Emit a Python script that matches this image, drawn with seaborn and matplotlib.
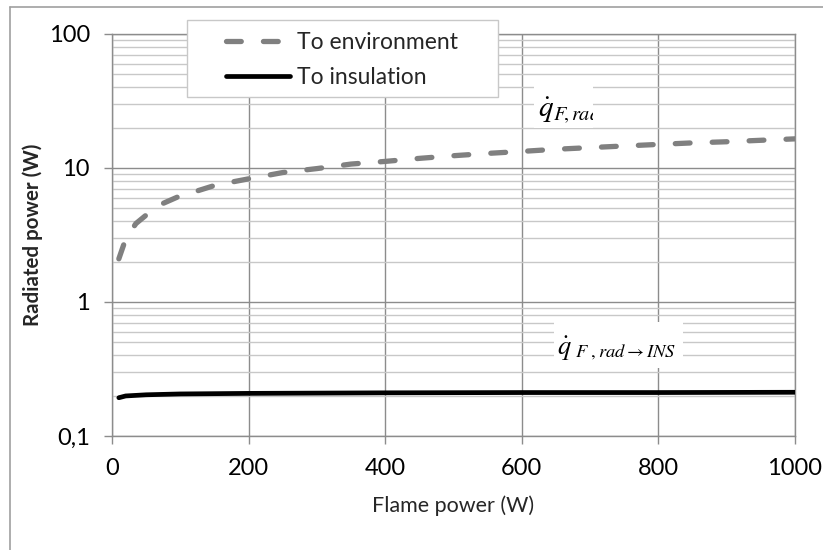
import numpy as np
import pandas as pd
import seaborn as sns
import matplotlib
matplotlib.use("Agg")
import matplotlib.pyplot as plt
from matplotlib.patches import Rectangle
from matplotlib.lines import Line2D
from matplotlib.transforms import Bbox
from matplotlib.ticker import FixedLocator, FixedFormatter, NullFormatter

# Flame power (W) and radiated power (W)
flame_env = [10, 20, 35, 50, 75, 100, 125, 150, 175, 200, 250, 300, 350, 400,
             450, 500, 550, 600, 650, 700, 750, 800, 850, 900, 950, 1000]
to_environment = [2.1, 2.95, 3.85, 4.45, 5.45, 6.2, 6.75, 7.4, 7.85, 8.3, 9.25,
                  9.9, 10.7, 11.2, 11.8, 12.35, 12.85, 13.3, 13.8, 14.2, 14.6,
                  15.0, 15.4, 15.7, 16.1, 16.5]

flame_ins = [10, 20, 50, 100, 200, 400, 600, 800, 1000]
to_insulation = [0.193, 0.199, 0.203, 0.206, 0.208, 0.21, 0.211, 0.211, 0.212]

x_ticks = [0, 200, 400, 600, 800, 1000]
y_ticks = [0.1, 1, 10, 100]
y_tick_labels = ["0,1", "1", "10", "100"]

sns.set_theme(style="white")
plt.rcParams["font.family"] = ["Lato", "DejaVu Sans"]
plt.rcParams["mathtext.fontset"] = "stix"

W, H = 823, 550
fig = plt.figure(figsize=(W / 100, H / 100), dpi=100)
ax = fig.add_axes([112 / W, 1 - 436 / H, (795 - 112) / W, (436 - 34) / H])

df_env = pd.DataFrame({"flame": flame_env, "rad": to_environment})
df_ins = pd.DataFrame({"flame": flame_ins, "rad": to_insulation})

sns.lineplot(data=df_env, x="flame", y="rad", ax=ax, color="#808080",
             linewidth=3.8, zorder=3)
ax.lines[-1].set_dashes([2.8, 4.2])
ax.lines[-1].set_dash_capstyle("round")
sns.lineplot(data=df_ins, x="flame", y="rad", ax=ax, color="black",
             linewidth=3.4, zorder=3)
ax.lines[-1].set_solid_capstyle("round")

ax.set_yscale("log")
ax.set_xlim(0, 1000)
ax.set_ylim(0.1, 100)

ax.xaxis.set_major_locator(FixedLocator(x_ticks))
ax.yaxis.set_major_locator(FixedLocator(y_ticks))
ax.yaxis.set_major_formatter(FixedFormatter(y_tick_labels))
minor = [m * 10.0 ** e for e in (-1, 0, 1) for m in range(2, 10)]
ax.yaxis.set_minor_locator(FixedLocator(minor))
ax.yaxis.set_minor_formatter(NullFormatter())

ax.grid(which="major", axis="both", color="#8c8c8c", linewidth=1.0)
ax.grid(which="minor", axis="y", color="#c8c8c8", linewidth=1.0)
ax.set_axisbelow(True)

for s in ax.spines.values():
    s.set_color("#8c8c8c")
    s.set_linewidth(1.0)

ax.tick_params(axis="both", which="major", direction="out", length=6,
               width=1.0, color="#8c8c8c", labelsize=17, labelcolor="black",
               left=True, bottom=True)
ax.tick_params(axis="y", which="major", pad=10)
ax.tick_params(axis="x", which="major", pad=10)
ax.tick_params(axis="y", which="minor", left=False)

ax.set_xlabel("Flame power (W)", fontsize=15.5, labelpad=12)
ax.set_ylabel("Radiated power (W)", fontsize=14.8, fontweight="bold", labelpad=4)

# Legend box spilling over the top of the plot area
fig.patches.append(Rectangle((187 / W, 1 - 97 / H), (498 - 187) / W, (97 - 20) / H,
                             transform=fig.transFigure, facecolor="white",
                             edgecolor="#c8c8c8", linewidth=1.0, zorder=5))
handles = [Line2D([], [], color="#808080", linewidth=3.8, dashes=[2.8, 4.2],
                  dash_capstyle="round"),
           Line2D([], [], color="black", linewidth=3.4, solid_capstyle="round")]
leg = fig.legend(handles, ["To environment", "To insulation"],
                 loc="upper left", bbox_to_anchor=(210 / W, 1 - 16 / H),
                 frameon=False, fontsize=16.5, handlelength=2.8,
                 handletextpad=0.3, labelspacing=0.62, borderpad=0.2)
leg.set_zorder(6)

# Symbol labels on white boxes
fig.patches.append(Rectangle((534 / W, 1 - 128 / H), (593 - 534) / W, (128 - 82) / H,
                             transform=fig.transFigure, facecolor="white",
                             edgecolor="none", zorder=4))
t1 = fig.text(538 / W, 1 - 110 / H, r"$\dot{q}_{F\!,rad}$", fontsize=21,
              va="center", ha="left", color="black", zorder=7)
t1.set_clip_box(Bbox.from_extents(534, H - 128, 593, H - 82))
t1.set_clip_on(True)

fig.patches.append(Rectangle((554 / W, 1 - 368 / H), (683 - 554) / W, (368 - 322) / H,
                             transform=fig.transFigure, facecolor="white",
                             edgecolor="none", zorder=4))
fig.text(557 / W, 1 - 348 / H, r"$\dot{q}_{\ F\ ,rad\rightarrow INS}$",
         fontsize=19, va="center", ha="left", color="black", zorder=7)

# Outer chart frame (left and top edges)
fig.add_artist(Line2D([10 / W, 10 / W], [0, 1 - 7 / H], transform=fig.transFigure,
                      color="#a0a0a0", linewidth=1.2))
fig.add_artist(Line2D([10 / W, 1], [1 - 7 / H, 1 - 7 / H], transform=fig.transFigure,
                      color="#a0a0a0", linewidth=1.2))

fig.savefig("out.png", dpi=100)
